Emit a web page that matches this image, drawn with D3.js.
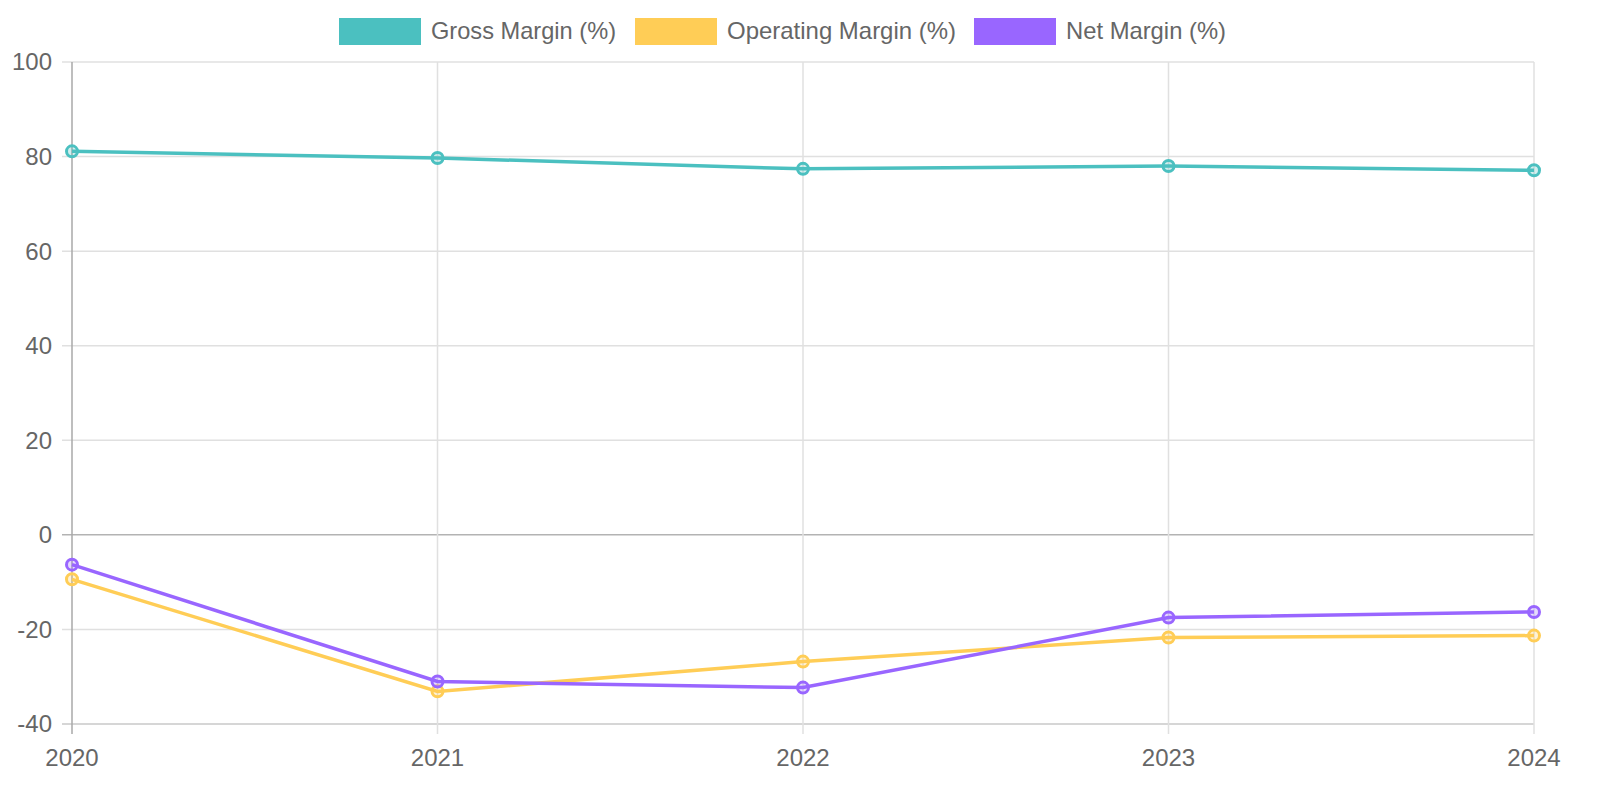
<!DOCTYPE html>
<html>
<head>
<meta charset="utf-8">
<script src="https://cdn.jsdelivr.net/npm/d3@7"></script>
<style>
  body { margin: 0; background: #fff; overflow: hidden; }
  text { font-family: "Liberation Sans", Arial, sans-serif; fill: #666; }
</style>
</head>
<body>
<div id="chart"></div>
<script>
var years = ["2020", "2021", "2022", "2023", "2024"];
var grossMargin = [81.1, 79.7, 77.4, 78.0, 77.1];
var operatingMargin = [-9.4, -33.1, -26.8, -21.7, -21.3];
var netMargin = [-6.3, -31.0, -32.3, -17.5, -16.3];
var seriesNames = ["Gross Margin (%)", "Operating Margin (%)", "Net Margin (%)"];
var yTicks = [-40, -20, 0, 20, 40, 60, 80, 100];

var colors = ["#4bc0c0", "#ffcd56", "#9966ff"];
var legendWidths = [185, 229, 160];

var width = 1600, height = 800;
var margin = {top: 62, right: 66, bottom: 76, left: 72};

var svg = d3.select("#chart").append("svg")
    .attr("width", width)
    .attr("height", height);

var x = d3.scalePoint()
    .domain(years)
    .range([margin.left, width - margin.right]);

var y = d3.scaleLinear()
    .domain([-40, 100])
    .range([height - margin.bottom, margin.top]);

// grid
var grid = svg.append("g");
grid.selectAll("line.h")
    .data(yTicks)
    .enter().append("line")
    .attr("x1", margin.left - 10)
    .attr("x2", width - margin.right)
    .attr("y1", function(d) { return y(d); })
    .attr("y2", function(d) { return y(d); })
    .attr("stroke", function(d) { return d === 0 ? "#b3b3b3" : (d === -40 ? "#c8c8c8" : "#e0e0e0"); })
    .attr("stroke-width", 1.5);

grid.selectAll("line.v")
    .data(years)
    .enter().append("line")
    .attr("x1", function(d) { return x(d); })
    .attr("x2", function(d) { return x(d); })
    .attr("y1", margin.top)
    .attr("y2", height - margin.bottom + 10)
    .attr("stroke", function(d, i) { return i === 0 ? "#a8a8a8" : "#e0e0e0"; })
    .attr("stroke-width", 1.5);

// y tick labels
svg.selectAll("text.ytick")
    .data(yTicks)
    .enter().append("text")
    .attr("x", margin.left - 20)
    .attr("y", function(d) { return y(d); })
    .attr("dy", "0.35em")
    .attr("text-anchor", "end")
    .style("font-size", "24px")
    .text(function(d) { return d; });

// x tick labels
svg.selectAll("text.xtick")
    .data(years)
    .enter().append("text")
    .attr("x", function(d) { return x(d); })
    .attr("y", height - margin.bottom + 42)
    .attr("text-anchor", "middle")
    .style("font-size", "24px")
    .text(function(d) { return d; });

var line = d3.line()
    .x(function(d, i) { return x(years[i]); })
    .y(function(d) { return y(d); });

var allSeries = [grossMargin, operatingMargin, netMargin];

allSeries.forEach(function(vals, s) {
  svg.append("path")
      .datum(vals)
      .attr("fill", "none")
      .attr("stroke", colors[s])
      .attr("stroke-width", 3.5)
      .attr("d", line);
});

allSeries.forEach(function(vals, s) {
  svg.append("g").selectAll("circle")
      .data(vals)
      .enter().append("circle")
      .attr("cx", function(d, i) { return x(years[i]); })
      .attr("cy", function(d) { return y(d); })
      .attr("r", 5.5)
      .attr("fill", d3.color(colors[s]).copy({opacity: 0.25}))
      .attr("stroke", colors[s])
      .attr("stroke-width", 3);
});

// legend
var legendX = [339, 635, 974];
var legend = svg.append("g");
seriesNames.forEach(function(name, i) {
  legend.append("rect")
      .attr("x", legendX[i])
      .attr("y", 18)
      .attr("width", 82)
      .attr("height", 27)
      .attr("fill", colors[i]);
  legend.append("text")
      .attr("x", legendX[i] + 92)
      .attr("y", 31)
      .attr("dy", "0.35em")
      .attr("textLength", legendWidths[i])
      .attr("lengthAdjust", "spacingAndGlyphs")
      .style("font-size", "24px")
      .text(name);
});
</script>
</body>
</html>
